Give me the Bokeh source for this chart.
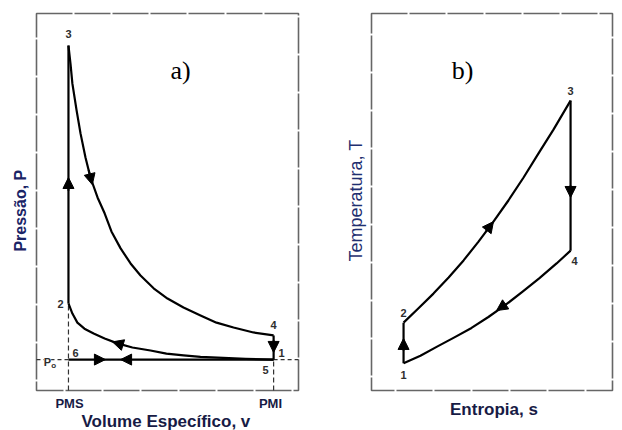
from bokeh.plotting import figure
from bokeh.layouts import row
from bokeh.models import Arrow, NormalHead, Range1d
from bokeh.core.properties import value
from bokeh.embed import file_html
from bokeh.resources import INLINE

# ---------------- Panel a) P-v diagram (frame spans 0..100 on both axes) ----
V_PMS = 12.2
V_PMI = 90.5
P_ATM = 8.2          # Po (points 1, 5, 6)
P2 = 23.1
P3 = 91.5
P4 = 14.6

exp_v = [12.2, 13.0, 13.7, 15.3, 16.8, 18.7, 20.6, 23.3, 26.0, 28.6, 32.1, 35.9,
         39.7, 44.7, 50.0, 56.1, 62.6, 68.7, 75.2, 82.8, 90.5]
exp_p = [91.5, 86.5, 81.4, 74.3, 68.2, 61.8, 56.5, 51.2, 47.0, 42.2, 37.7, 33.7,
         30.5, 27.1, 24.4, 22.0, 19.9, 18.0, 16.7, 15.4, 14.6]
comp_v = [90.5, 79.8, 69.1, 62.6, 56.1, 49.6, 43.5, 36.6, 30.9, 26.0, 21.8, 18.3,
          15.6, 13.7, 12.2]
comp_p = [8.2, 8.4, 8.7, 8.9, 9.3, 9.8, 10.6, 11.4, 12.5, 13.8, 15.1, 16.4,
          18.0, 20.4, 23.1]

# arrows panel a: (tail_x, tail_y, tip_x, tip_y)
arrows_a = [
    (V_PMS, 53.0, V_PMS, 56.5),
    (19.9, 58.5, 21.3, 54.6),
    (V_PMI, 13.3, V_PMI, 10.1),
    (32.8, 12.1, 29.0, 12.9),
    (22.5, P_ATM, 26.3, P_ATM),
    (35.9, P_ATM, 32.1, P_ATM),
]

# ---------------- Panel b) T-s diagram -------------------------------------
S_LOW = 13.3
S_HIGH = 82.6
T1 = 7.2
T2 = 18.0
T3 = 76.9
T4 = 37.1

heat_s = [13.3, 19.5, 25.7, 32.0, 38.2, 44.4, 50.6, 56.8, 63.1, 69.3, 75.5, 82.6]
heat_t = [18.0, 21.8, 25.7, 30.0, 34.5, 39.5, 44.8, 50.4, 56.5, 62.9, 69.2, 76.9]
rej_s = [82.6, 76.8, 69.7, 62.7, 55.6, 48.5, 41.5, 34.4, 27.4, 20.3, 13.3]
rej_t = [37.1, 33.7, 29.8, 26.2, 22.7, 19.5, 16.6, 14.1, 11.7, 9.2, 7.2]

arrows_b = [
    (S_LOW, 10.6, S_LOW, 13.8),
    (47.5, 42.2, 50.6, 44.8),
    (S_HIGH, 54.4, S_HIGH, 51.2),
    (56.0, 23.0, 51.9, 21.2),
]

FRAME = (0, 100)

SANS = value("Liberation Sans")
SERIF = value("Liberation Serif")
NAVY = "#171b45"
FRAME_COLOR = "#666666"


def base_fig(xr, yr):
    p = figure(width=311, height=430, x_range=Range1d(*xr), y_range=Range1d(*yr),
               output_backend="svg", toolbar_location=None,
               x_axis_location=None, y_axis_location=None,
               min_border=0, min_border_left=0, min_border_right=0,
               min_border_top=0, min_border_bottom=0)
    p.grid.visible = False
    p.outline_line_color = None
    p.background_fill_color = "white"
    p.border_fill_color = "white"
    p.quad(left=[FRAME[0]], right=[FRAME[1]], bottom=[FRAME[0]], top=[FRAME[1]],
           fill_color=None, line_color=FRAME_COLOR, line_width=1.6, line_dash="36 2")
    return p


def add_arrows(p, arrows):
    for xs, ys, xe, ye in arrows:
        p.add_layout(Arrow(end=NormalHead(size=11, fill_color="black", line_color="black",
                                          line_width=1),
                           x_start=xs, y_start=ys, x_end=xe, y_end=ye,
                           line_color="black", line_width=2))


def num_labels(p, xs, ys, texts, dx, dy):
    p.text(x=xs, y=ys, text=texts, x_offset=dx, y_offset=dy,
           text_font=SANS, text_font_style="bold", text_font_size=value("11px"),
           text_color="#2e2e2e", text_align="center", text_baseline="middle")


# ---------------- build panel a --------------------------------------------
pa = base_fig((-13.74, 104.96), (-10.61, 103.45))

# dashed guide lines
pa.line([V_PMS, V_PMS], [0, P2], line_color="#333333", line_width=1.2, line_dash="5 3")
pa.line([V_PMI, V_PMI], [0, P_ATM], line_color="#333333", line_width=1.2, line_dash="5 3")
pa.line([0, V_PMS], [P_ATM, P_ATM], line_color="#333333", line_width=1.2, line_dash="4 3")
pa.line([V_PMI, 100], [P_ATM, P_ATM], line_color="#333333", line_width=1.2, line_dash="4 3")

# cycle
pa.line([V_PMS, V_PMS], [P2, P3], line_color="black", line_width=2.2)
pa.line(exp_v, exp_p, line_color="black", line_width=2.2, line_join="round")
pa.line([V_PMI, V_PMI], [P4, P_ATM], line_color="black", line_width=2.2)
pa.line(comp_v, comp_p, line_color="black", line_width=2.2, line_join="round")
pa.line([V_PMS, V_PMI], [P_ATM, P_ATM], line_color="black", line_width=2.2)
add_arrows(pa, arrows_a)

num_labels(pa,
           [V_PMS, V_PMS, V_PMI, V_PMI, V_PMI, V_PMS],
           [P3, P2, P4, P_ATM, P_ATM, P_ATM],
           ["3", "2", "4", "1", "5", "6"],
           [0, -8, 0, 8, -8, 7],
           [-12, 1, -10, -7, 10, -7])

# Po label
pa.text(x=[4.2], y=[P_ATM], text=["P"], y_offset=[2], text_font=SANS,
        text_font_style="bold", text_font_size=value("11px"), text_color="#2e2e2e",
        text_align="center", text_baseline="middle",
        background_fill_color="white")
pa.text(x=[6.6], y=[P_ATM], text=["o"], y_offset=[6], text_font=SANS,
        text_font_style="bold", text_font_size=value("8px"), text_color="#2e2e2e",
        text_align="center", text_baseline="middle",
        background_fill_color="white")

pa.text(x=[55.0], y=[84.9], text=["a)"], text_font=SERIF, text_font_size=value("26px"),
        text_color="black", text_align="center", text_baseline="middle")

pa.text(x=[V_PMS + 0.4, V_PMI - 1.2], y=[-3.4, -3.4], text=["PMS", "PMI"], text_font=SANS,
        text_font_style="bold", text_font_size=value("13px"), text_color=NAVY,
        text_align="center", text_baseline="middle")
pa.text(x=[49.4], y=[-8.3], text=["Volume Específico, v"], text_font=SANS,
        text_font_style="bold", text_font_size=value("17px"), text_color=NAVY,
        text_align="center", text_baseline="middle")
pa.text(x=[-6.1], y=[47.7], text=["Pressão, P"], angle=1.5708, text_font=SANS,
        text_font_style="bold", text_font_size=value("16px"), text_color="#1a2466",
        text_align="center", text_baseline="middle")

# ---------------- build panel b --------------------------------------------
pb = base_fig((-24.9, 104.15), (-10.61, 103.45))

pb.line([S_LOW, S_LOW], [T1, T2], line_color="black", line_width=2.2)
pb.line(heat_s, heat_t, line_color="black", line_width=2.2, line_join="round")
pb.line([S_HIGH, S_HIGH], [T3, T4], line_color="black", line_width=2.2)
pb.line(rej_s, rej_t, line_color="black", line_width=2.2, line_join="round")
add_arrows(pb, arrows_b)

num_labels(pb,
           [S_HIGH, S_HIGH, S_LOW, S_LOW],
           [T3, T4, T2, T1],
           ["3", "4", "2", "1"],
           [0, 4, 0, 0],
           [-10, 10, -10, 12])

pb.text(x=[37.8], y=[84.9], text=["b)"], text_font=SERIF, text_font_size=value("26px"),
        text_color="black", text_align="center", text_baseline="middle")
pb.text(x=[50.8], y=[-5.0], text=["Entropia, s"], text_font=SANS,
        text_font_style="bold", text_font_size=value("17px"), text_color=NAVY,
        text_align="center", text_baseline="middle")
pb.text(x=[-6.6], y=[50.4], text=["Temperatura, T"], angle=1.5708, text_font=SANS,
        text_font_size=value("18px"), text_color="#1f2f70",
        text_align="center", text_baseline="middle")

layout = row(pa, pb, spacing=0)
open("out.html", "w").write(file_html(layout, INLINE))
